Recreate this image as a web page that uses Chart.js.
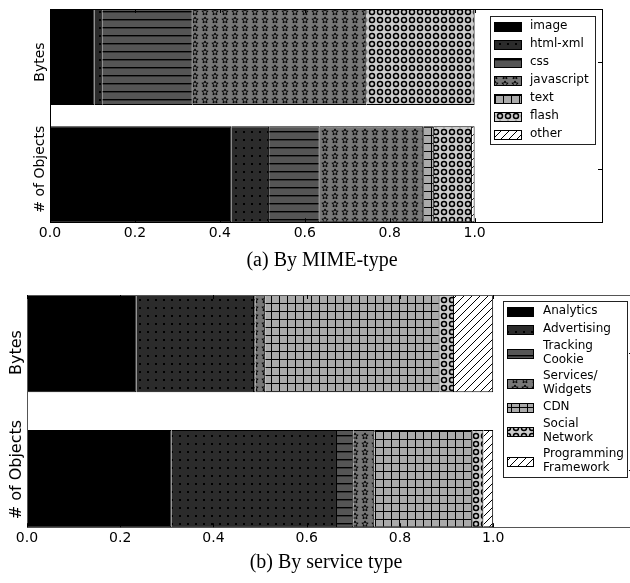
<!DOCTYPE html>
<html>
<head>
<meta charset="utf-8">
<script src="https://cdn.jsdelivr.net/npm/chart.js@4.4.1/dist/chart.umd.min.js"></script>
<style>
html, body { margin: 0; padding: 0; background: #fff; overflow: hidden; width: 630px; height: 583px; }
#wrapA { position: absolute; left: 0; top: 0; width: 630px; height: 250px; }
#wrapB { position: absolute; left: 0; top: 280px; width: 640px; height: 275px; }
.cap { position: absolute; font-family: "Liberation Serif", serif; font-size: 20px; color: #000;
       white-space: nowrap; transform: translate(-50%, -50%); }
</style>
</head>
<body>
<div id="wrapA"><canvas id="chartA"></canvas></div>
<div class="cap" style="left:322px; top:259px;">(a) By MIME-type</div>
<div id="wrapB"><canvas id="chartB"></canvas></div>
<div class="cap" style="left:326px; top:561px;">(b) By service type</div>
<script>
// rows of each panel (top bar first)
var rowLabels = ['Bytes', '# of Objects'];

// (a) by MIME-type
var mimeTypes = ['image', 'html-xml', 'css', 'javascript', 'text', 'flash', 'other'];
var mimeBytes = [0.105, 0.018, 0.213, 0.409, 0.000, 0.255, 0.000];
var mimeObjects = [0.427, 0.089, 0.119, 0.244, 0.025, 0.090, 0.006];

// (b) by service type
var serviceTypes = ['Analytics', 'Advertising', 'Tracking\nCookie', 'Services/\nWidgets', 'CDN', 'Social\nNetwork', 'Programming\nFramework'];
var serviceBytes = [0.235, 0.252, 0.003, 0.021, 0.374, 0.031, 0.084];
var serviceObjects = [0.310, 0.355, 0.035, 0.045, 0.211, 0.023, 0.021];

var xTicks = [0.0, 0.2, 0.4, 0.6, 0.8, 1.0];

Chart.defaults.font.family = '"DejaVu Sans", sans-serif';
Chart.defaults.color = '#000';

// hatch fills, same order for both panels
function makeFill(kind, bg) {
    "use strict";
    var w = 8, h = 8;
    if (kind === 'star') { w = 10; h = 8; }
    var c = document.createElement('canvas');
    c.width = w; c.height = h;
    var g = c.getContext('2d');
    g.fillStyle = bg;
    g.fillRect(0, 0, w, h);
    g.fillStyle = '#000';
    g.strokeStyle = '#000';
    if (kind === 'solid') {
        return bg;
    }
    if (kind === 'dot') {
        g.fillRect(3, 3, 2, 2);
    }
    if (kind === 'hline') {
        g.fillRect(0, 3, w, 1);
        g.fillStyle = '#333';
        g.fillRect(0, 4, w, 1);
    }
    if (kind === 'star') {
        g.lineWidth = 1;
        g.beginPath();
        for (var i = 0; i < 10; i++) {
            var r = (i % 2 === 0) ? 3.3 : 1.5;
            var a = -Math.PI / 2 + i * Math.PI / 5;
            var px = 5 + r * Math.cos(a), py = 4.2 + r * Math.sin(a);
            if (i === 0) { g.moveTo(px, py); } else { g.lineTo(px, py); }
        }
        g.closePath();
        g.stroke();
    }
    if (kind === 'grid') {
        g.fillRect(0, 7, w, 1);
        g.fillRect(7, 0, 1, h);
    }
    if (kind === 'circle') {
        g.lineWidth = 1.5;
        g.beginPath();
        g.arc(4, 4, 2.5, 0, Math.PI * 2);
        g.stroke();
    }
    if (kind === 'diag') {
        g.lineWidth = 1;
        g.beginPath();
        g.moveTo(-1, 9); g.lineTo(9, -1);
        g.moveTo(-1, 1); g.lineTo(1, -1);
        g.moveTo(7, 9); g.lineTo(9, 7);
        g.stroke();
    }
    return g.createPattern(c, 'repeat');
}

var fills = [
    makeFill('solid', '#000000'),
    makeFill('dot', '#2b2b2b'),
    makeFill('hline', '#555555'),
    makeFill('star', '#777777'),
    makeFill('grid', '#aaaaaa'),
    makeFill('circle', '#cccccc'),
    makeFill('diag', '#ffffff')
];

// frame, inward ticks, rotated row labels and the boxed legend
var panelDecor = {
    id: 'panelDecor',
    afterDatasetsDraw: function (chart, args, opts) {
        var ca = chart.chartArea, ctx = chart.ctx;
        var xs = chart.scales.x, ys = chart.scales.y;
        ctx.save();
        ctx.strokeStyle = opts.frameColor;
        ctx.lineWidth = 1;
        ctx.strokeRect(Math.round(ca.left) + 0.5, Math.round(ca.top) + 0.5,
            Math.round(ca.right - ca.left), Math.round(ca.bottom - ca.top));
        ctx.strokeStyle = '#000';
        ctx.beginPath();
        xTicks.forEach(function (v) {
            var px = Math.round(xs.getPixelForValue(v)) + 0.5;
            ctx.moveTo(px, ca.top); ctx.lineTo(px, ca.top + 4);
            ctx.moveTo(px, ca.bottom); ctx.lineTo(px, ca.bottom - 4);
        });
        rowLabels.forEach(function (lab, i) {
            var c = ys.getPixelForValue(1 - i);
            var py = Math.round(c + (i === 0 ? opts.inset : -opts.inset)) + 0.5;
            ctx.moveTo(ca.right, py); ctx.lineTo(ca.right - 4, py);
        });
        ctx.stroke();
        ctx.restore();
    },
    afterDraw: function (chart, args, opts) {
        var ctx = chart.ctx, ys = chart.scales.y;
        ctx.save();
        // row labels
        ctx.fillStyle = '#000';
        ctx.font = opts.rowFont + 'px "DejaVu Sans"';
        ctx.textAlign = 'center';
        ctx.textBaseline = 'middle';
        rowLabels.forEach(function (lab, i) {
            var c = ys.getPixelForValue(1 - i) + (i === 0 ? opts.inset : -opts.inset);
            ctx.save();
            ctx.translate(opts.rowX, c);
            ctx.rotate(-Math.PI / 2);
            ctx.fillText(lab, 0, 0);
            ctx.restore();
        });
        // legend
        var lg = opts.legend;
        var items = chart.data.datasets;
        var heights = items.map(function (d) { return 12 + 12 * (d.label.split('\n').length - 1); });
        var boxH = 8 + heights.reduce(function (a, b) { return a + b; }, 0) + 6 * (items.length - 1);
        ctx.fillStyle = '#fff';
        ctx.fillRect(lg.x, lg.y, lg.w, boxH);
        ctx.strokeStyle = '#222';
        ctx.lineWidth = 1;
        ctx.strokeRect(lg.x + 0.5, lg.y + 0.5, lg.w, boxH);
        ctx.font = '12px "DejaVu Sans"';
        ctx.textAlign = 'left';
        var y = lg.y + 4;
        items.forEach(function (d, i) {
            var cy = y + heights[i] / 2;
            var ph = 9;
            var top = Math.round(cy - ph / 2);
            ctx.fillStyle = d.backgroundColor;
            ctx.fillRect(lg.patchX, top, lg.patchW, ph);
            ctx.strokeStyle = '#000';
            ctx.strokeRect(lg.patchX + 0.5, top + 0.5, lg.patchW, ph);
            ctx.fillStyle = '#000';
            var lines = d.label.split('\n');
            lines.forEach(function (t, k) {
                ctx.fillText(t, lg.textX, cy + (k - (lines.length - 1) / 2) * 14);
            });
            y += heights[i] + 6;
        });
        ctx.restore();
    }
};

function buildPanel(id, cats, bytes, objs, o) {
    "use strict";
    var datasets = cats.map(function (c, i) {
        return {
            label: c,
            data: [{x: bytes[i], y: 1}, {x: objs[i], y: 0}],
            backgroundColor: fills[i],
            borderColor: '#000',
            borderWidth: {left: 0, right: 1, top: 1, bottom: 1},
            borderSkipped: false,
            barPercentage: o.barPct,
            categoryPercentage: 1
        };
    });
    var half = o.barPct / 2;
    return new Chart(document.getElementById(id).getContext('2d'), {
        type: 'bar',
        data: {datasets: datasets},
        plugins: [panelDecor],
        options: {
            indexAxis: 'y',
            responsive: true,
            maintainAspectRatio: false,
            animation: false,
            layout: {padding: o.padding},
            scales: {
                x: {
                    type: 'linear', stacked: true, min: 0, max: 1.3,
                    grid: {display: false, drawTicks: false},
                    border: {display: false},
                    afterBuildTicks: function (scale) {
                        scale.ticks = xTicks.map(function (v) { return {value: v}; });
                    },
                    ticks: {
                        autoSkip: false, maxRotation: 0, padding: 3,
                        font: {size: 14},
                        callback: function (v) { return Number(v).toFixed(1); }
                    }
                },
                y: {
                    // bars fill the plot top to bottom
                    type: 'linear', stacked: true, min: -half, max: 1 + half,
                    offset: false, display: false,
                    // only the two bar rows, so bar thickness comes from their spacing
                    afterBuildTicks: function (scale) {
                        scale.ticks = [{value: 0}, {value: 1}];
                    }
                }
            },
            plugins: {
                legend: {display: false},
                tooltip: {enabled: false},
                panelDecor: {rowX: o.rowX, rowFont: o.rowFont, inset: o.inset, legend: o.legend, frameColor: o.frameColor}
            }
        }
    });
}

buildPanel('chartA', mimeTypes, mimeBytes, mimeObjects, {
    padding: {left: 50, right: 28, top: 9, bottom: 5},
    barPct: 0.82, frameColor: '#000',
    rowX: 40, rowFont: 14, inset: 5,
    legend: {x: 490, y: 16, w: 105, patchX: 494, patchW: 27, textX: 530}
});

buildPanel('chartB', serviceTypes, serviceBytes, serviceObjects, {
    padding: {left: 27, right: 7, top: 15, bottom: 5},
    barPct: 0.72, frameColor: '#555',
    rowX: 17, rowFont: 16, inset: 9,
    legend: {x: 503, y: 21, w: 124, patchX: 507, patchW: 26, textX: 543}
});
</script>
</body>
</html>
